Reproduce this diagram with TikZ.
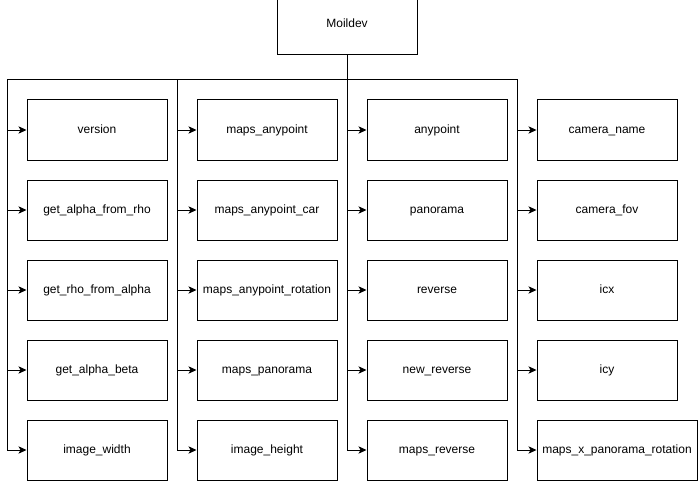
\documentclass[tikz,border=0pt]{standalone}
\usepackage{fontspec}
\setmainfont{Liberation Sans}
\usetikzlibrary{arrows.meta}
\tikzset{
	func/.style={draw, line width=0.75pt, minimum width=105pt, minimum height=45pt,
		inner sep=0pt, text height=6.5pt, text depth=2pt, font=\fontsize{9}{11}\selectfont},
	link/.style={line width=0.75pt, -{Stealth[length=6pt,width=5.5pt,inset=1.5pt]}},
}
\begin{document}
\begin{tikzpicture}[x=0.75pt,y=-0.75pt]

		\useasboundingbox (0,0) rectangle (698,481);

		\node[func] (moildev) at (347,25) {Moildev};
		\foreach \c/\x in {1/7,2/177,3/347,4/517}
			\coordinate (bus\c) at (\x,80);

		\foreach \name [count=\r] in {version,get\_alpha\_from\_rho,get\_rho\_from\_alpha,get\_alpha\_beta,image\_width}
			{\node[func] (a\r) at (97,{50+80*\r}) {\name};
			\draw[link] (moildev.south) |- (bus1) |- (a\r.west);}

		\foreach \name [count=\r] in {maps\_anypoint,maps\_anypoint\_car,maps\_anypoint\_rotation,maps\_panorama,image\_height}
			{\node[func] (b\r) at (267,{50+80*\r}) {\name};
			\draw[link] (moildev.south) |- (bus2) |- (b\r.west);}

		\foreach \name [count=\r] in {anypoint,panorama,reverse,new\_reverse,maps\_reverse}
			{\node[func] (c\r) at (437,{50+80*\r}) {\name};
			\draw[link] (moildev.south) |- (bus3) |- (c\r.west);}

		\foreach \name [count=\r] in {camera\_name,camera\_fov,icx,icy}
			{\node[func] (d\r) at (607,{50+80*\r}) {\name};
			\draw[link] (moildev.south) |- (bus4) |- (d\r.west);}

		\node[func, minimum width=120pt] (d5) at (617,450) {maps\_x\_panorama\_rotation};
		\draw[link] (moildev.south) |- (bus4) |- (d5.west);

\end{tikzpicture}
\end{document}
